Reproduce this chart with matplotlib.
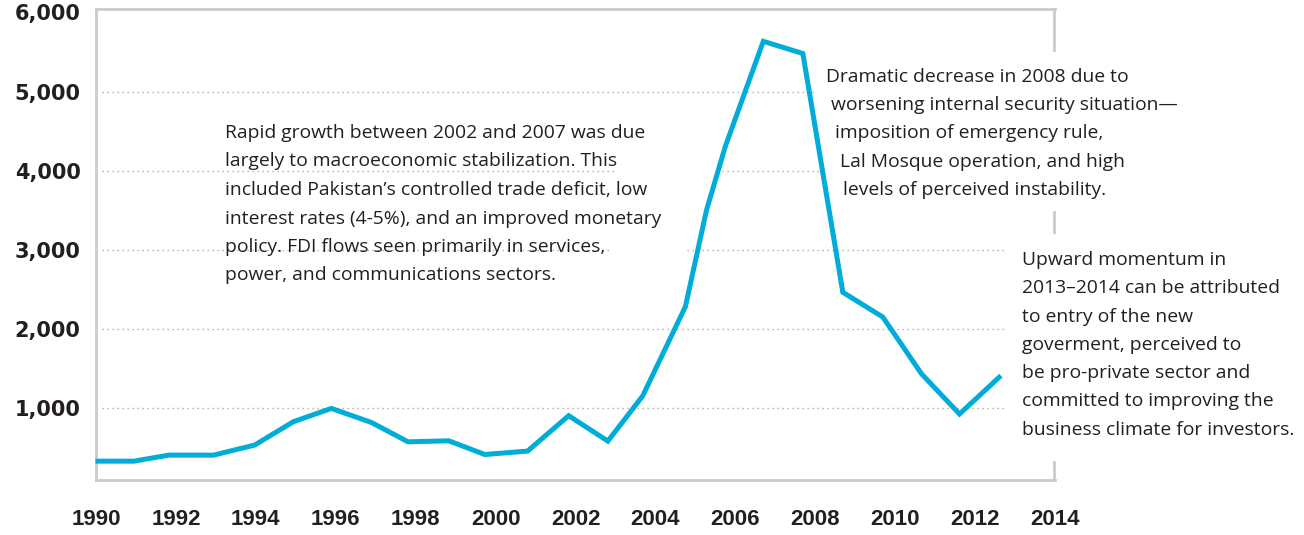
import matplotlib
matplotlib.use("Agg")
import matplotlib.pyplot as plt

# FDI inflows into Pakistan (US$ million), positions
years = [1990.05, 1990.95, 1991.82, 1992.94, 1993.97, 1994.94, 1995.89, 1996.89,
         1997.81, 1998.83, 1999.73, 2000.80, 2001.83, 2002.81, 2003.68, 2004.75,
         2005.28, 2005.75, 2006.70, 2007.69, 2008.69, 2009.69, 2010.66, 2011.61,
         2012.60]
fdi = [334, 334, 410, 410, 537, 832, 1000, 823, 578, 591, 418, 461, 908, 587,
       1156, 2284, 3506, 4309, 5635, 5481, 2466, 2154, 1436, 929, 1392]

x_ticks = list(range(1990, 2015, 2))
y_ticks = [1000, 2000, 3000, 4000, 5000, 6000]

note_growth = ["Rapid growth between 2002 and 2007 was due",
               "largely to macroeconomic stabilization. This",
               "included Pakistan\u2019s controlled trade deficit, low",
               "interest rates (4-5%), and an improved monetary",
               "policy. FDI flows seen primarily in services,",
               "power, and communications sectors."]
note_drop = ["Dramatic decrease in 2008 due to",
             "worsening internal security situation\u2014",
             "imposition of emergency rule,",
             "Lal Mosque operation, and high",
             "levels of perceived instability."]
note_up = ["Upward momentum in",
           "2013\u20132014 can be attributed",
           "to entry of the new",
           "goverment, perceived to",
           "be pro-private sector and",
           "committed to improving the",
           "business climate for investors."]

LINE = "#00acd8"
FRAME = "#c8cdcb"
GRID = "#a9aeae"
INK = "#231f20"
NOTE_FONT = "Open Sans"
NOTE_SIZE = 13.9
W, H = 1304, 535

fig = plt.figure(figsize=(W / 100, H / 100), dpi=100)
ax = fig.add_axes([96 / W, 1 - 480 / H, (1055 - 96) / W, (480 - 9) / H])

ax.set_xlim(1990.05, 2013.98)
ax.set_ylim(96, 6043)

# dotted gridlines, broken where the notes sit
grid_segments = {5000: [(1990.15, 2008.04)],
                 4000: [(1990.15, 2002.97), (2005.67, 2008.11)],
                 3000: [(1990.15, 2002.90), (2004.80, 2012.80)],
                 2000: [(1990.15, 2012.80)],
                 1000: [(1990.15, 2012.80)]}
for yv, segs in grid_segments.items():
    for x0, x1 in segs:
        ax.plot([x0, x1], [yv, yv], color=GRID, lw=1.0, linestyle=(0, (1, 2.6)), zorder=1)

ax.plot(years, fdi, color=LINE, lw=3.6, solid_joinstyle="miter", zorder=3, clip_on=False)

for side in ["left", "top", "bottom"]:
    ax.spines[side].set_color(FRAME)
    ax.spines[side].set_linewidth(2)
ax.spines["right"].set_visible(False)
for y0, y1 in [(0.913, 1.0), (0.5265, 0.569), (0.0, 0.038)]:
    ax.axvline(2013.98, ymin=y0, ymax=y1, color=FRAME, lw=2, clip_on=False)

ax.set_xticks(x_ticks)
ax.set_xticklabels([str(t) for t in x_ticks], fontfamily="Liberation Sans",
                   fontweight="bold", fontsize=16, color=INK)
ax.set_yticks(y_ticks)
ax.set_yticklabels([f"{t:,}" for t in y_ticks], fontfamily="DejaVu Sans",
                   fontweight="bold", fontsize=15, color=INK)
ax.tick_params(axis="x", length=0, pad=21)
ax.tick_params(axis="y", length=0, pad=11)


def fig_xy(px, py):
    return px / W, 1 - py / H


for i, line in enumerate(note_growth):
    fig.text(*fig_xy(225, 138 + i * 28.5), line, fontfamily=NOTE_FONT, fontsize=NOTE_SIZE,
             color=INK, va="baseline", ha="left")

drop_x = [826, 831, 835, 840, 843]
for i, line in enumerate(note_drop):
    fig.text(*fig_xy(drop_x[i], 81.7 + i * 28.3), line, fontfamily=NOTE_FONT, fontsize=NOTE_SIZE,
             color=INK, va="baseline", ha="left")

for i, line in enumerate(note_up):
    fig.text(*fig_xy(1022.5, 265 + i * 28.3), line, fontfamily=NOTE_FONT, fontsize=NOTE_SIZE,
             color=INK, va="baseline", ha="left")

fig.savefig("out.png", dpi=100)
